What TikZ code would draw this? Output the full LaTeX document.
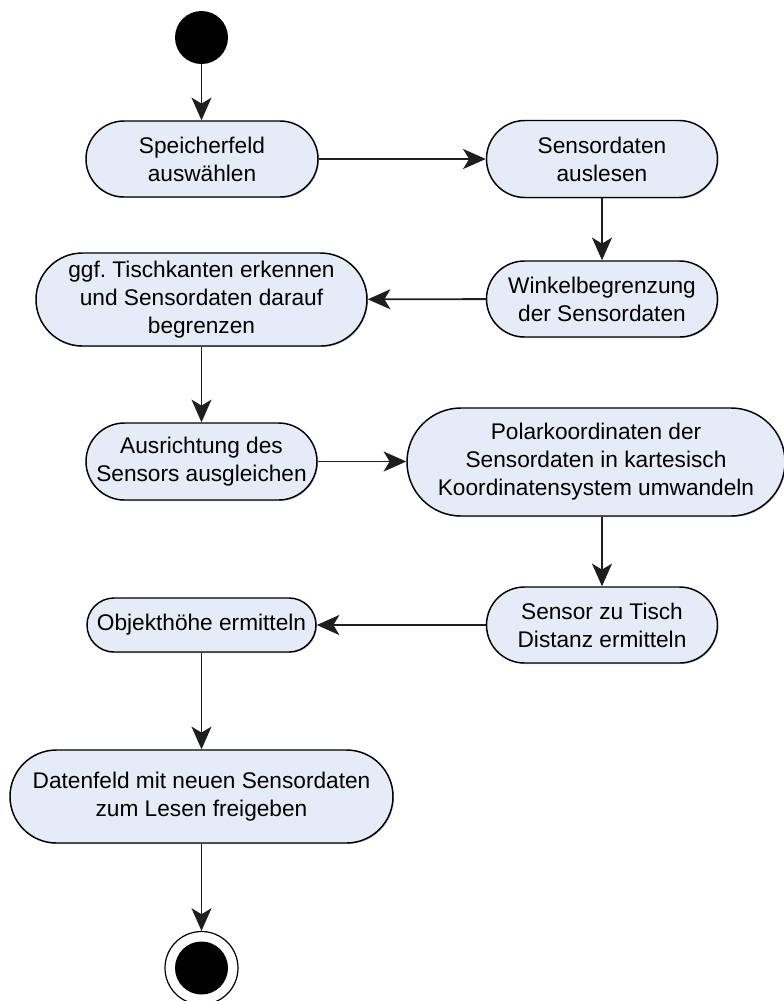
\documentclass[tikz,border=0pt]{standalone}
\usepackage{fontspec}
\setmainfont{Liberation Sans}
\usetikzlibrary{arrows.meta,shadows}
\definecolor{actfill}{RGB}{230,236,247}
\definecolor{flowline}{RGB}{30,30,30}
\tikzset{
  act/.style={draw=black, line width=1.1pt, fill=actfill, rectangle,
    inner sep=0pt, align=center,
    font=\fontsize{17pt}{21pt}\selectfont,
    drop shadow={shadow xshift=0.8pt, shadow yshift=-0.8pt, fill=black, opacity=0.22}},
  flow/.style={draw=flowline, line width=1.4pt,
    -{Stealth[length=17pt,width=15pt,inset=4.5pt]}},
  startdot/.style={circle, fill=black, inner sep=0pt, minimum size=39.75pt},
  endring/.style={circle, draw=black, line width=0.9pt, fill=white, inner sep=0pt, minimum size=54.75pt},
  enddot/.style={circle, fill=black, inner sep=0pt, minimum size=39.75pt},
}
\frenchspacing
\begin{document}
\begin{tikzpicture}[x=0.75pt,y=-0.75pt]
\useasboundingbox (0,0) rectangle (783,1001);

% start
\node[startdot] (start) at (201.5,37.5) {};

% actions
\node[act, minimum width=174pt, minimum height=57pt, rounded corners=28.49pt]
  (n1) at (202,159) {Speicherfeld\\auswählen};
\node[act, minimum width=173.25pt, minimum height=57.75pt, rounded corners=28.86pt]
  (n2) at (602,159) {Sensordaten\\auslesen};
\node[act, minimum width=173.25pt, minimum height=57pt, rounded corners=28.49pt]
  (n3) at (602,299) {Winkelbegrenzung\\der Sensordaten};
\node[act, minimum width=248.25pt, minimum height=69.75pt, rounded corners=34.86pt]
  (n4) at (201.5,299.5) {ggf. Tischkanten erkennen\\und Sensordaten darauf\\begrenzen};
\node[act, minimum width=173.25pt, minimum height=57.75pt, rounded corners=28.86pt]
  (n5) at (201.5,461.5) {Ausrichtung des\\Sensors ausgleichen};
\node[act, minimum width=283.5pt, minimum height=81pt, rounded corners=40.49pt]
  (n6) at (596,462) {Polarkoordinaten der\\Sensordaten in kartesisch\\Koordinatensystem umwandeln};
\node[act, minimum width=173.25pt, minimum height=57pt, rounded corners=28.49pt]
  (n7) at (602,625) {Sensor zu Tisch\\Distanz ermitteln};
\node[act, minimum width=171.75pt, minimum height=40.5pt, rounded corners=20.24pt]
  (n8) at (201.5,625) {Objekthöhe ermitteln};
\node[act, minimum width=287.25pt, minimum height=69.75pt, rounded corners=34.86pt]
  (n9) at (201.5,796.5) {Datenfeld mit neuen Sensordaten\\zum Lesen freigeben};

% final state
\node[endring] (endo) at (201.5,968) {};
\node[enddot] (endi) at (201.5,968) {};

% control flow
\draw[flow] (start) -- (n1.north -| start);
\draw[flow] (n1) -- (n2);
\draw[flow] (n2) -- (n3);
\draw[flow] (n3) -- (n4);
\draw[flow] (n4) -- (n5);
\draw[flow] (n5) -- (n6.west |- n5);
\draw[flow] (n6.south -| n7) -- (n7);
\draw[flow] (n7) -- (n8);
\draw[flow] (n8) -- (n9);
\draw[flow] (n9) -- (endo);
\end{tikzpicture}
\end{document}
